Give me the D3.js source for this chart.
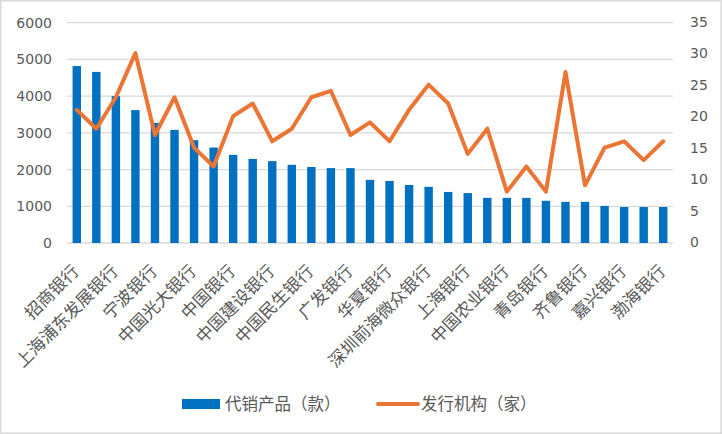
<!DOCTYPE html>
<html><head><meta charset="utf-8">
<script src="https://cdn.jsdelivr.net/npm/d3@7/dist/d3.min.js"></script>
<style>body{margin:0;background:#fff;} svg{display:block;}</style>
</head><body>
<svg id="c" width="722" height="434"></svg>
<script>
// Category names (only every other label is shown in the reference; hidden names unknown)
const categories = ["招商银行","","上海浦东发展银行","","宁波银行","","中国光大银行","","中国银行","","中国建设银行","","中国民生银行","","广发银行","","华夏银行","","深圳前海微众银行","","上海银行","","中国农业银行","","青岛银行","","齐鲁银行","","嘉兴银行","","渤海银行"];
const products = [4820,4660,4000,3620,3270,3080,2800,2600,2400,2290,2230,2130,2070,2040,2040,1720,1690,1580,1530,1390,1360,1230,1230,1230,1150,1120,1120,1010,980,980,980];
const issuers = [21,18,23,30,17,23,15,12,20,22,16,18,23,24,17,19,16,21,25,22,14,18,8,12,8,27,9,15,16,13,16];
const leftTicks = [0,1000,2000,3000,4000,5000,6000];
const rightTicks = [0,5,10,15,20,25,30,35];
const seriesNames = ["代销产品（款）","发行机构（家）"];

const svg = d3.select("#c");
const FONT = "'DejaVu Sans','Noto Sans CJK SC',sans-serif";
const TXT = "#595959";
const BLUE = "#0070C0", ORANGE = "#EA7535";

svg.append("rect").attr("x",0.75).attr("y",0.75).attr("width",720.5).attr("height",432.5)
  .attr("fill","#fff").attr("stroke","#d9d9d9").attr("stroke-width",1.5);

const x0 = 67, x1 = 673, yTop = 22.7, yBot = 243;
const idx = d3.range(categories.length);
const x = d3.scaleBand().domain(idx).range([x0,x1]).paddingInner(0.57).paddingOuter(0.285);
const yL = d3.scaleLinear().domain([0,6000]).range([yBot,yTop]);
const yR = d3.scaleLinear().domain([0,35]).range([yBot - 1,yTop - 1]);

// gridlines
svg.append("g").selectAll("line").data(leftTicks).join("line")
  .attr("x1",x0).attr("x2",x1).attr("y1",d=>yL(d)).attr("y2",d=>yL(d))
  .attr("stroke","#d9d9d9").attr("stroke-width",1.3);

// left axis
const gl = svg.append("g").attr("transform",`translate(52,0)`)
  .call(d3.axisLeft(yL).tickValues(leftTicks).tickSize(0).tickPadding(0).tickFormat(d3.format("d")));
gl.select(".domain").remove();
gl.selectAll("text").attr("fill",TXT).style("font-family",FONT).style("font-size","14px");

// right axis
const gr = svg.append("g").attr("transform",`translate(690,0)`)
  .call(d3.axisRight(yR).tickValues(rightTicks).tickSize(0).tickPadding(0).tickFormat(d3.format("d")));
gr.select(".domain").remove();
gr.selectAll("text").attr("fill",TXT).style("font-family",FONT).style("font-size","14px");

// bars
svg.append("g").selectAll("rect").data(products).join("rect")
  .attr("x",(d,i)=>x(i)).attr("width",x.bandwidth())
  .attr("y",d=>yL(d)).attr("height",d=>yBot-yL(d)).attr("fill",BLUE);

// line
const line = d3.line().x((d,i)=>x(i)+x.bandwidth()/2).y(d=>yR(d));
svg.append("path").datum(issuers).attr("d",line).attr("fill","none")
  .attr("stroke",ORANGE).attr("stroke-width",4).attr("stroke-linejoin","round").attr("stroke-linecap","round");

// bottom axis labels
const gb = svg.append("g").attr("transform",`translate(0,${yBot})`)
  .call(d3.axisBottom(x).tickSize(0).tickFormat(i=>categories[i]));
gb.select(".domain").remove();
gb.selectAll(".tick text")
  .attr("fill",TXT).style("font-family",FONT).style("font-size","17px")
  .attr("text-anchor","end").attr("dy","0.35em")
  .attr("transform","translate(-1,25) rotate(-45)").attr("x",0).attr("y",0);

// legend
const lg = svg.append("g").style("font-family",FONT).style("font-size","16.5px");
lg.append("rect").attr("x",182).attr("y",399).attr("width",38).attr("height",10).attr("fill",BLUE);
lg.append("text").attr("x",225).attr("y",404).attr("dy","0.35em").attr("fill",TXT).text(seriesNames[0]);
lg.append("line").attr("x1",378).attr("x2",418).attr("y1",404).attr("y2",404)
  .attr("stroke",ORANGE).attr("stroke-width",4).attr("stroke-linecap","round");
lg.append("text").attr("x",421).attr("y",404).attr("dy","0.35em").attr("fill",TXT).text(seriesNames[1]);
</script>
</body></html>
